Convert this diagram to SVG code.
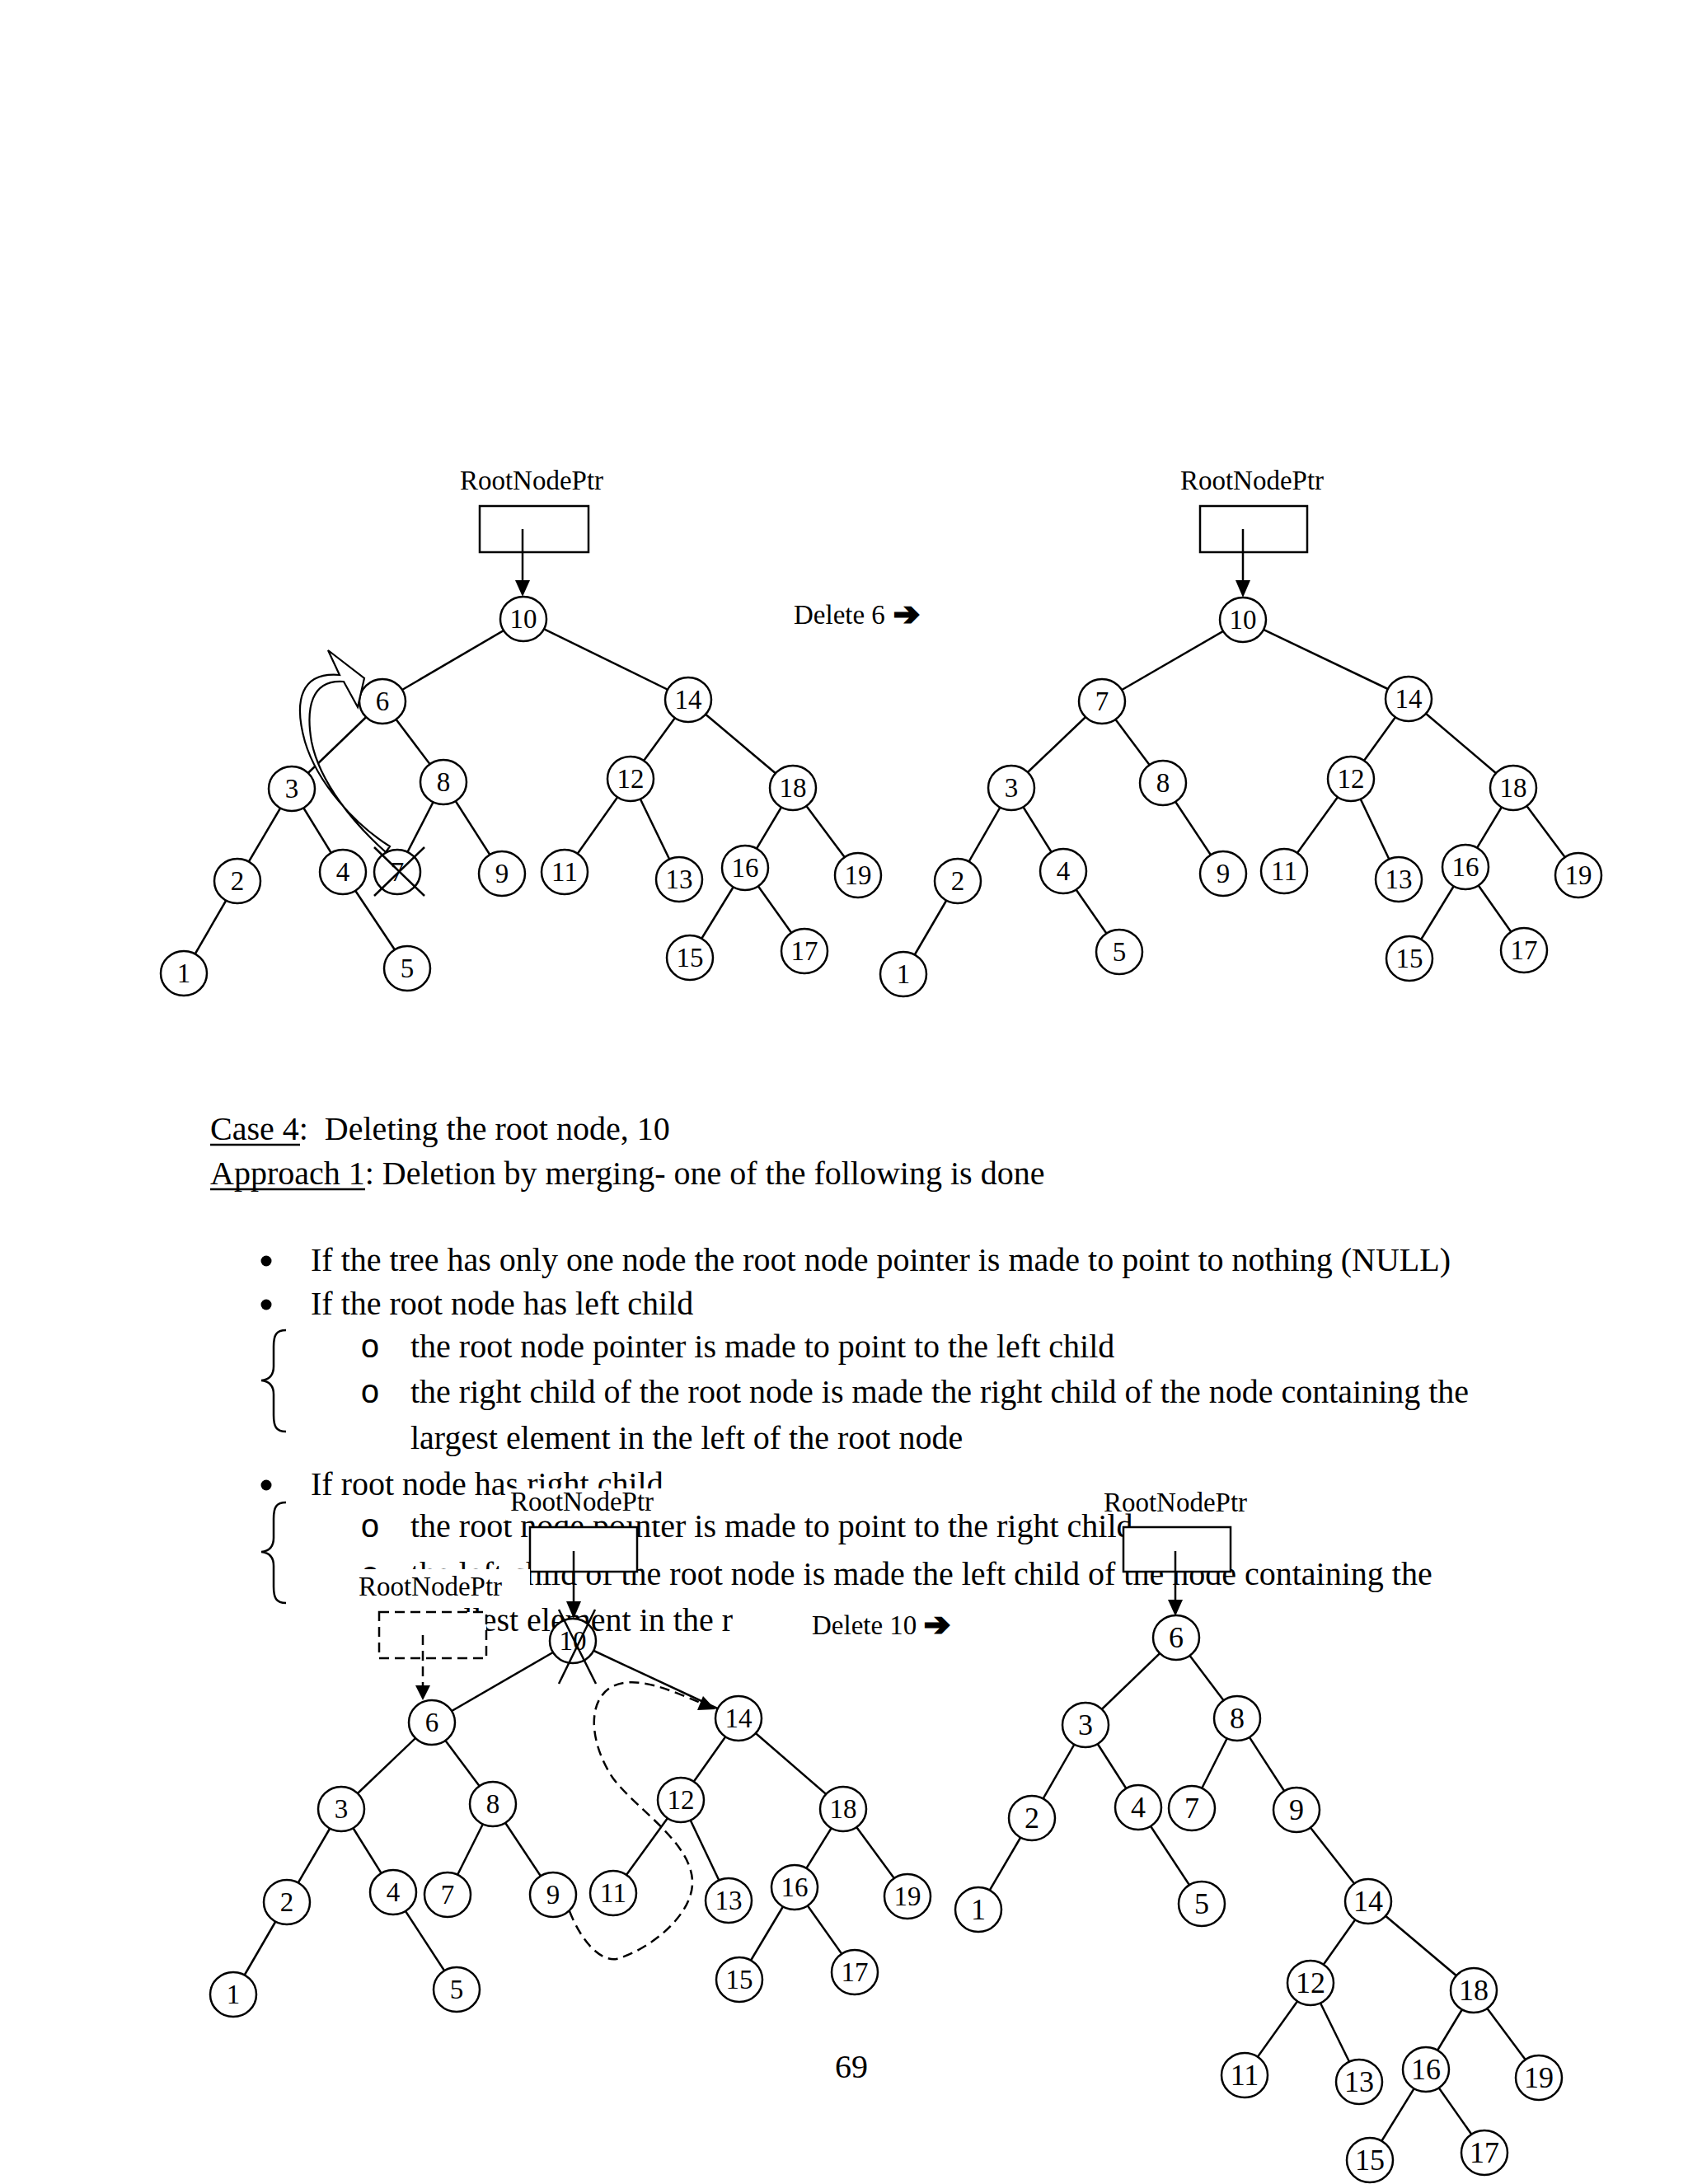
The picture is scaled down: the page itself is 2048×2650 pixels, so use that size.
<svg xmlns="http://www.w3.org/2000/svg" width="2048" height="2650" viewBox="0 0 2048 2650">
<style>
.body{font-family:"Liberation Serif","Times New Roman",serif;font-size:40px;fill:#000}
.lbl{font-family:"Liberation Serif","Times New Roman",serif;font-size:33px;fill:#000;text-anchor:middle}
.arr{font-family:"DejaVu Sans",sans-serif;font-size:38px;font-weight:bold;fill:#000;stroke:#000;stroke-width:2.5;stroke-linejoin:miter}
.node ellipse{fill:#fff;stroke:#000;stroke-width:2.5}
.node text{font-family:"Liberation Serif","Times New Roman",serif;font-size:33px;fill:#000;text-anchor:middle}
.br text{font-size:36px}
.edge line{stroke:#000;stroke-width:2.5}
.box{fill:#fff;stroke:#000;stroke-width:2.5}
.dbox{fill:#fff;stroke:#000;stroke-width:2.5;stroke-dasharray:12 7}
.dash{fill:none;stroke:#000;stroke-width:2.5;stroke-dasharray:12 7}
.ptr{stroke:#000;stroke-width:2.5}
.mask{fill:#fff}
.x{stroke:#000;stroke-width:2.5}
.brace{fill:none;stroke:#000;stroke-width:2.5}
.sub{font-family:"Liberation Mono","Courier New",monospace;font-size:40px;fill:#000;text-anchor:middle}
</style>

<!-- ===== Text section ===== -->
<g id="text">
<text class="body" x="255" y="1383" xml:space="preserve">Case 4:  Deleting the root node, 10</text>
<line x1="255" y1="1389" x2="364" y2="1389" stroke="#000" stroke-width="2.5"/>
<text class="body" x="255" y="1437">Approach 1: Deletion by merging- one of the following is done</text>
<line x1="255" y1="1443" x2="443" y2="1443" stroke="#000" stroke-width="2.5"/>

<circle cx="323" cy="1530" r="6.5" fill="#000"/>
<text class="body" x="377" y="1542">If the tree has only one node the root node pointer is made to point to nothing (NULL)</text>
<circle cx="323" cy="1583" r="6.5" fill="#000"/>
<text class="body" x="377" y="1595">If the root node has left child</text>
<path class="brace" d="M347,1614 C335,1614 332,1620 332,1634 L332,1658 C332,1668 327,1674 317,1675 C327,1676 332,1682 332,1692 L332,1717 C332,1731 335,1737 347,1737"/>
<text class="sub" x="449" y="1647">o</text>
<text class="body" x="498" y="1647">the root node pointer is made to point to the left child</text>
<text class="sub" x="449" y="1702">o</text>
<text class="body" x="498" y="1702">the right child of the root node is made the right child of the node containing the</text>
<text class="body" x="498" y="1758">largest element in the left of the root node</text>

<circle cx="323" cy="1802" r="6.5" fill="#000"/>
<text class="body" x="377" y="1814">If root node has right child</text>
<path class="brace" d="M347,1823 C335,1823 332,1829 332,1843 L332,1866 C332,1876 327,1882 317,1883 C327,1884 332,1890 332,1900 L332,1925 C332,1939 335,1945 347,1945"/>
<text class="sub" x="449" y="1865">o</text>
<text class="body" x="498" y="1865">the root node pointer is made to point to the right child</text>
<text class="sub" x="449" y="1923">o</text>
<text class="body" x="498" y="1923">the left child of the root node is made the left child of the node containing the</text>
<text class="body" x="498" y="1979">smallest element in the right of the root node</text>

<text class="body" x="1033" y="2521" text-anchor="middle">69</text>
</g>

<!-- ===== Top-left tree ===== -->
<g id="tl-ptr">
<text class="lbl" x="645" y="594">RootNodePtr</text>
<rect class="box" x="582" y="614" width="132" height="56"/>
<line class="ptr" x1="634" y1="642" x2="634" y2="706"/>
<polygon points="625,704 643,704 634,724" fill="#000"/>
</g>
<g id="tl-edges" class="edge">
<line x1="635" y1="751" x2="464" y2="851"/><line x1="635" y1="751" x2="835" y2="849"/>
<line x1="464" y1="851" x2="354" y2="957"/><line x1="464" y1="851" x2="538" y2="949"/>
<line x1="354" y1="957" x2="288" y2="1069"/><line x1="354" y1="957" x2="416" y2="1058"/>
<line x1="288" y1="1069" x2="223" y2="1181"/><line x1="416" y1="1058" x2="494" y2="1175"/>
<line x1="538" y1="949" x2="482" y2="1058"/><line x1="538" y1="949" x2="609" y2="1060"/>
<line x1="835" y1="849" x2="765" y2="945"/><line x1="835" y1="849" x2="962" y2="956"/>
<line x1="765" y1="945" x2="685" y2="1058"/><line x1="765" y1="945" x2="824" y2="1067"/>
<line x1="962" y1="956" x2="904" y2="1053"/><line x1="962" y1="956" x2="1041" y2="1062"/>
<line x1="904" y1="1053" x2="837" y2="1162"/><line x1="904" y1="1053" x2="976" y2="1154"/>
</g>
<g id="tl-10" class="node"><ellipse cx="635" cy="751" rx="28" ry="27"/><text x="635" y="762">10</text></g>
<g id="tl-6" class="node"><ellipse cx="464" cy="851" rx="28" ry="27"/><text x="464" y="862">6</text></g>
<g id="tl-14" class="node"><ellipse cx="835" cy="849" rx="28" ry="27"/><text x="835" y="860">14</text></g>
<g id="tl-3" class="node"><ellipse cx="354" cy="957" rx="28" ry="27"/><text x="354" y="968">3</text></g>
<g id="tl-8" class="node"><ellipse cx="538" cy="949" rx="28" ry="27"/><text x="538" y="960">8</text></g>
<g id="tl-12" class="node"><ellipse cx="765" cy="945" rx="28" ry="27"/><text x="765" y="956">12</text></g>
<g id="tl-18" class="node"><ellipse cx="962" cy="956" rx="28" ry="27"/><text x="962" y="967">18</text></g>
<g id="tl-2" class="node"><ellipse cx="288" cy="1069" rx="28" ry="27"/><text x="288" y="1080">2</text></g>
<g id="tl-4" class="node"><ellipse cx="416" cy="1058" rx="28" ry="27"/><text x="416" y="1069">4</text></g>
<g id="tl-7" class="node"><ellipse cx="482" cy="1058" rx="28" ry="27"/><text x="482" y="1069">7</text></g>
<g id="tl-9" class="node"><ellipse cx="609" cy="1060" rx="28" ry="27"/><text x="609" y="1071">9</text></g>
<g id="tl-11" class="node"><ellipse cx="685" cy="1058" rx="28" ry="27"/><text x="685" y="1069">11</text></g>
<g id="tl-13" class="node"><ellipse cx="824" cy="1067" rx="28" ry="27"/><text x="824" y="1078">13</text></g>
<g id="tl-16" class="node"><ellipse cx="904" cy="1053" rx="28" ry="27"/><text x="904" y="1064">16</text></g>
<g id="tl-19" class="node"><ellipse cx="1041" cy="1062" rx="28" ry="27"/><text x="1041" y="1073">19</text></g>
<g id="tl-1" class="node"><ellipse cx="223" cy="1181" rx="28" ry="27"/><text x="223" y="1192">1</text></g>
<g id="tl-5" class="node"><ellipse cx="494" cy="1175" rx="28" ry="27"/><text x="494" y="1186">5</text></g>
<g id="tl-15" class="node"><ellipse cx="837" cy="1162" rx="28" ry="27"/><text x="837" y="1173">15</text></g>
<g id="tl-17" class="node"><ellipse cx="976" cy="1154" rx="28" ry="27"/><text x="976" y="1165">17</text></g>
<g id="tl-marks">
<line class="x" x1="454" y1="1028" x2="515" y2="1087"/>
<line class="x" x1="515" y1="1028" x2="454" y2="1087"/>
<path d="M473,1027 C430,1000 385,950 370,900 C356,850 365,815 412,819 L398,789 L442,823 L434,858 L417,827 C377,824 371,860 378,900 C388,950 430,1000 468,1034 Z" fill="#fff" stroke="#000" stroke-width="2.2"/>
</g>

<g id="delete6">
<text class="lbl" x="963" y="757" style="text-anchor:start">Delete 6</text>
<text class="arr" x="1084" y="758">➔</text>
</g>

<!-- ===== Top-right tree ===== -->
<g id="tr-ptr">
<text class="lbl" x="1519" y="594">RootNodePtr</text>
<rect class="box" x="1456" y="614" width="130" height="56"/>
<line class="ptr" x1="1508" y1="642" x2="1508" y2="706"/>
<polygon points="1499,704 1517,704 1508,725" fill="#000"/>
</g>
<g id="tr-edges" class="edge">
<line x1="1508" y1="752" x2="1337" y2="851"/><line x1="1508" y1="752" x2="1709" y2="848"/>
<line x1="1337" y1="851" x2="1227" y2="956"/><line x1="1337" y1="851" x2="1411" y2="950"/>
<line x1="1227" y1="956" x2="1162" y2="1069"/><line x1="1227" y1="956" x2="1290" y2="1057"/>
<line x1="1162" y1="1069" x2="1096" y2="1182"/><line x1="1290" y1="1057" x2="1358" y2="1155"/>
<line x1="1411" y1="950" x2="1484" y2="1060"/>
<line x1="1709" y1="848" x2="1639" y2="945"/><line x1="1709" y1="848" x2="1836" y2="956"/>
<line x1="1639" y1="945" x2="1558" y2="1057"/><line x1="1639" y1="945" x2="1697" y2="1067"/>
<line x1="1836" y1="956" x2="1778" y2="1052"/><line x1="1836" y1="956" x2="1915" y2="1062"/>
<line x1="1778" y1="1052" x2="1710" y2="1163"/><line x1="1778" y1="1052" x2="1849" y2="1153"/>
</g>
<g id="tr-10" class="node"><ellipse cx="1508" cy="752" rx="28" ry="27"/><text x="1508" y="763">10</text></g>
<g id="tr-7" class="node"><ellipse cx="1337" cy="851" rx="28" ry="27"/><text x="1337" y="862">7</text></g>
<g id="tr-14" class="node"><ellipse cx="1709" cy="848" rx="28" ry="27"/><text x="1709" y="859">14</text></g>
<g id="tr-3" class="node"><ellipse cx="1227" cy="956" rx="28" ry="27"/><text x="1227" y="967">3</text></g>
<g id="tr-8" class="node"><ellipse cx="1411" cy="950" rx="28" ry="27"/><text x="1411" y="961">8</text></g>
<g id="tr-12" class="node"><ellipse cx="1639" cy="945" rx="28" ry="27"/><text x="1639" y="956">12</text></g>
<g id="tr-18" class="node"><ellipse cx="1836" cy="956" rx="28" ry="27"/><text x="1836" y="967">18</text></g>
<g id="tr-2" class="node"><ellipse cx="1162" cy="1069" rx="28" ry="27"/><text x="1162" y="1080">2</text></g>
<g id="tr-4" class="node"><ellipse cx="1290" cy="1057" rx="28" ry="27"/><text x="1290" y="1068">4</text></g>
<g id="tr-9" class="node"><ellipse cx="1484" cy="1060" rx="28" ry="27"/><text x="1484" y="1071">9</text></g>
<g id="tr-11" class="node"><ellipse cx="1558" cy="1057" rx="28" ry="27"/><text x="1558" y="1068">11</text></g>
<g id="tr-13" class="node"><ellipse cx="1697" cy="1067" rx="28" ry="27"/><text x="1697" y="1078">13</text></g>
<g id="tr-16" class="node"><ellipse cx="1778" cy="1052" rx="28" ry="27"/><text x="1778" y="1063">16</text></g>
<g id="tr-19" class="node"><ellipse cx="1915" cy="1062" rx="28" ry="27"/><text x="1915" y="1073">19</text></g>
<g id="tr-1" class="node"><ellipse cx="1096" cy="1182" rx="28" ry="27"/><text x="1096" y="1193">1</text></g>
<g id="tr-5" class="node"><ellipse cx="1358" cy="1155" rx="28" ry="27"/><text x="1358" y="1166">5</text></g>
<g id="tr-15" class="node"><ellipse cx="1710" cy="1163" rx="28" ry="27"/><text x="1710" y="1174">15</text></g>
<g id="tr-17" class="node"><ellipse cx="1849" cy="1153" rx="28" ry="27"/><text x="1849" y="1164">17</text></g>

<!-- ===== Bottom-left tree ===== -->
<g id="bl-ptr">
<rect class="mask" x="614" y="1806" width="196" height="39"/>
<text class="lbl" x="706" y="1833">RootNodePtr</text>
<rect class="box" x="643" y="1853" width="130" height="54"/>
<line class="ptr" x1="696" y1="1882" x2="696" y2="1945"/>
<polygon points="687,1943 705,1943 696,1964" fill="#000"/>
</g>
<g id="bl-ptr2">
<rect class="mask" x="428" y="1904" width="215" height="43"/>
<text class="lbl" x="522" y="1936">RootNodePtr</text>
<rect class="dbox" x="460" y="1956" width="130" height="56"/>
<line class="dash" x1="513" y1="1984" x2="513" y2="2046"/>
<polygon points="504,2045 522,2045 513,2063" fill="#000"/>
</g>
<g id="delete10">
<rect class="mask" x="889" y="1942" width="350" height="52"/>
<text class="lbl" x="985" y="1983" style="text-anchor:start">Delete 10</text>
<text class="arr" x="1121" y="1984">➔</text>
</g>
<g id="bl-edges" class="edge">
<line x1="695" y1="1991" x2="524" y2="2090"/><line x1="695" y1="1991" x2="896" y2="2085"/>
<line x1="524" y1="2090" x2="414" y2="2195"/><line x1="524" y1="2090" x2="598" y2="2189"/>
<line x1="414" y1="2195" x2="348" y2="2308"/><line x1="414" y1="2195" x2="477" y2="2296"/>
<line x1="348" y1="2308" x2="283" y2="2420"/><line x1="477" y1="2296" x2="554" y2="2414"/>
<line x1="598" y1="2189" x2="543" y2="2299"/><line x1="598" y1="2189" x2="671" y2="2299"/>
<line x1="896" y1="2085" x2="826" y2="2184"/><line x1="896" y1="2085" x2="1023" y2="2195"/>
<line x1="826" y1="2184" x2="744" y2="2297"/><line x1="826" y1="2184" x2="884" y2="2306"/>
<line x1="1023" y1="2195" x2="964" y2="2290"/><line x1="1023" y1="2195" x2="1101" y2="2301"/>
<line x1="964" y1="2290" x2="897" y2="2402"/><line x1="964" y1="2290" x2="1037" y2="2393"/>
</g>
<g id="bl-10" class="node"><ellipse cx="695" cy="1991" rx="28" ry="27"/><text x="695" y="2002">10</text></g>
<g id="bl-6" class="node"><ellipse cx="524" cy="2090" rx="28" ry="27"/><text x="524" y="2101">6</text></g>
<g id="bl-14" class="node"><ellipse cx="896" cy="2085" rx="28" ry="27"/><text x="896" y="2096">14</text></g>
<g id="bl-3" class="node"><ellipse cx="414" cy="2195" rx="28" ry="27"/><text x="414" y="2206">3</text></g>
<g id="bl-8" class="node"><ellipse cx="598" cy="2189" rx="28" ry="27"/><text x="598" y="2200">8</text></g>
<g id="bl-12" class="node"><ellipse cx="826" cy="2184" rx="28" ry="27"/><text x="826" y="2195">12</text></g>
<g id="bl-18" class="node"><ellipse cx="1023" cy="2195" rx="28" ry="27"/><text x="1023" y="2206">18</text></g>
<g id="bl-2" class="node"><ellipse cx="348" cy="2308" rx="28" ry="27"/><text x="348" y="2319">2</text></g>
<g id="bl-4" class="node"><ellipse cx="477" cy="2296" rx="28" ry="27"/><text x="477" y="2307">4</text></g>
<g id="bl-7" class="node"><ellipse cx="543" cy="2299" rx="28" ry="27"/><text x="543" y="2310">7</text></g>
<g id="bl-9" class="node"><ellipse cx="671" cy="2299" rx="28" ry="27"/><text x="671" y="2310">9</text></g>
<g id="bl-11" class="node"><ellipse cx="744" cy="2297" rx="28" ry="27"/><text x="744" y="2308">11</text></g>
<g id="bl-13" class="node"><ellipse cx="884" cy="2306" rx="28" ry="27"/><text x="884" y="2317">13</text></g>
<g id="bl-16" class="node"><ellipse cx="964" cy="2290" rx="28" ry="27"/><text x="964" y="2301">16</text></g>
<g id="bl-19" class="node"><ellipse cx="1101" cy="2301" rx="28" ry="27"/><text x="1101" y="2312">19</text></g>
<g id="bl-1" class="node"><ellipse cx="283" cy="2420" rx="28" ry="27"/><text x="283" y="2431">1</text></g>
<g id="bl-5" class="node"><ellipse cx="554" cy="2414" rx="28" ry="27"/><text x="554" y="2425">5</text></g>
<g id="bl-15" class="node"><ellipse cx="897" cy="2402" rx="28" ry="27"/><text x="897" y="2413">15</text></g>
<g id="bl-17" class="node"><ellipse cx="1037" cy="2393" rx="28" ry="27"/><text x="1037" y="2404">17</text></g>
<g id="bl-marks">
<line class="x" x1="678" y1="2043" x2="722" y2="1953"/>
<line class="x" x1="678" y1="1953" x2="723" y2="2043"/>
<path class="dash" d="M691,2319 C705,2355 728,2380 748,2377 C790,2365 842,2322 840,2282 C838,2235 772,2195 744,2158 C718,2120 710,2068 740,2048 C770,2030 815,2052 850,2066"/>
<polygon points="868,2074 846,2075 853,2058" fill="#000"/>
</g>

<!-- ===== Bottom-right tree ===== -->
<g id="br-ptr">
<text class="lbl" x="1426" y="1834">RootNodePtr</text>
<rect class="box" x="1363" y="1853" width="130" height="54"/>
<line class="ptr" x1="1426" y1="1882" x2="1426" y2="1943"/>
<polygon points="1417,1941 1435,1941 1426,1961" fill="#000"/>
</g>
<g id="br-edges" class="edge">
<line x1="1427" y1="1987" x2="1317" y2="2093"/><line x1="1427" y1="1987" x2="1501" y2="2085"/>
<line x1="1317" y1="2093" x2="1252" y2="2206"/><line x1="1317" y1="2093" x2="1381" y2="2193"/>
<line x1="1252" y1="2206" x2="1187" y2="2317"/><line x1="1381" y1="2193" x2="1458" y2="2310"/>
<line x1="1501" y1="2085" x2="1446" y2="2194"/><line x1="1501" y1="2085" x2="1573" y2="2196"/>
<line x1="1573" y1="2196" x2="1660" y2="2307"/>
<line x1="1660" y1="2307" x2="1590" y2="2406"/><line x1="1660" y1="2307" x2="1788" y2="2415"/>
<line x1="1590" y1="2406" x2="1510" y2="2518"/><line x1="1590" y1="2406" x2="1649" y2="2526"/>
<line x1="1788" y1="2415" x2="1730" y2="2511"/><line x1="1788" y1="2415" x2="1867" y2="2521"/>
<line x1="1730" y1="2511" x2="1662" y2="2621"/><line x1="1730" y1="2511" x2="1801" y2="2612"/>
</g>
<g id="br-6" class="node br"><ellipse cx="1427" cy="1987" rx="28" ry="27"/><text x="1427" y="1999">6</text></g>
<g id="br-3" class="node br"><ellipse cx="1317" cy="2093" rx="28" ry="27"/><text x="1317" y="2105">3</text></g>
<g id="br-8" class="node br"><ellipse cx="1501" cy="2085" rx="28" ry="27"/><text x="1501" y="2097">8</text></g>
<g id="br-2" class="node br"><ellipse cx="1252" cy="2206" rx="28" ry="27"/><text x="1252" y="2218">2</text></g>
<g id="br-4" class="node br"><ellipse cx="1381" cy="2193" rx="28" ry="27"/><text x="1381" y="2205">4</text></g>
<g id="br-7" class="node br"><ellipse cx="1446" cy="2194" rx="28" ry="27"/><text x="1446" y="2206">7</text></g>
<g id="br-9" class="node br"><ellipse cx="1573" cy="2196" rx="28" ry="27"/><text x="1573" y="2208">9</text></g>
<g id="br-1" class="node br"><ellipse cx="1187" cy="2317" rx="28" ry="27"/><text x="1187" y="2329">1</text></g>
<g id="br-5" class="node br"><ellipse cx="1458" cy="2310" rx="28" ry="27"/><text x="1458" y="2322">5</text></g>
<g id="br-14" class="node br"><ellipse cx="1660" cy="2307" rx="28" ry="27"/><text x="1660" y="2319">14</text></g>
<g id="br-12" class="node br"><ellipse cx="1590" cy="2406" rx="28" ry="27"/><text x="1590" y="2418">12</text></g>
<g id="br-18" class="node br"><ellipse cx="1788" cy="2415" rx="28" ry="27"/><text x="1788" y="2427">18</text></g>
<g id="br-11" class="node br"><ellipse cx="1510" cy="2518" rx="28" ry="27"/><text x="1510" y="2530">11</text></g>
<g id="br-13" class="node br"><ellipse cx="1649" cy="2526" rx="28" ry="27"/><text x="1649" y="2538">13</text></g>
<g id="br-16" class="node br"><ellipse cx="1730" cy="2511" rx="28" ry="27"/><text x="1730" y="2523">16</text></g>
<g id="br-19" class="node br"><ellipse cx="1867" cy="2521" rx="28" ry="27"/><text x="1867" y="2533">19</text></g>
<g id="br-15" class="node br"><ellipse cx="1662" cy="2621" rx="28" ry="27"/><text x="1662" y="2633">15</text></g>
<g id="br-17" class="node br"><ellipse cx="1801" cy="2612" rx="28" ry="27"/><text x="1801" y="2624">17</text></g>
</svg>
